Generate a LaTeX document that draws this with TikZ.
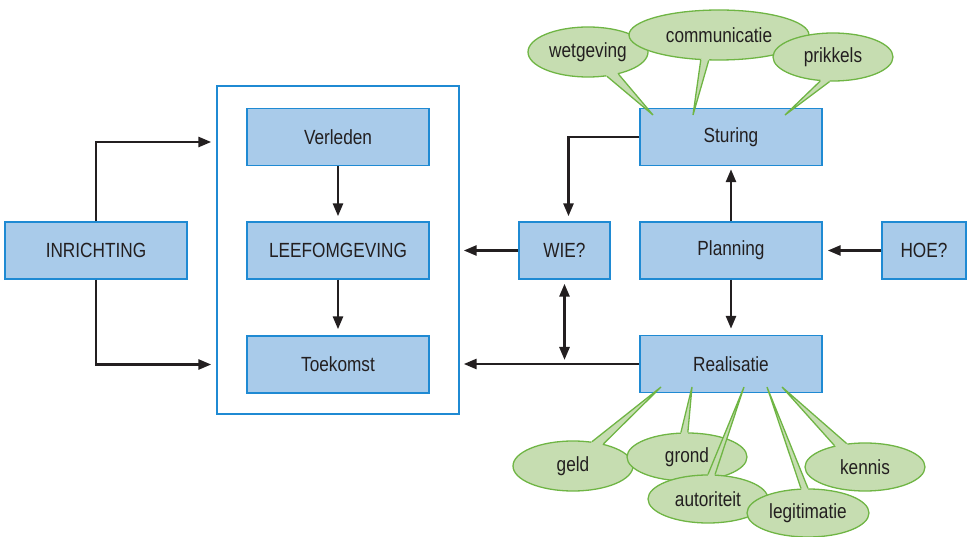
\documentclass[tikz,border=0pt]{standalone}
\usepackage{fontspec}
\setmainfont[FakeStretch=0.84]{Liberation Sans}
\usetikzlibrary{arrows.meta,shapes.geometric,calc}
\definecolor{boxfill}{HTML}{A9CBEA}
\definecolor{boxline}{HTML}{1F8AD3}
\definecolor{bubfill}{HTML}{C6DDB1}
\definecolor{bubline}{HTML}{6FB544}
\definecolor{txt}{HTML}{231F20}
\newcommand\bubptr[4]{%
  \fill[bubfill] (#1.#2) -- (#4) -- (#1.#3) -- ($(#1.#3)!0.25!(#1.center)$) -- ($(#1.#2)!0.25!(#1.center)$) -- cycle;
  \draw[bubline,line width=1.3pt,line join=miter] (#1.#2) -- (#4) -- (#1.#3);
}
\begin{document}
\begin{tikzpicture}[x=1pt,y=-1pt,
  font=\fontsize{20.5}{24}\selectfont, text=txt,
  box/.style={draw=boxline, fill=boxfill, line width=1.4pt, minimum height=57pt, inner sep=0pt},
  arr/.style={line width=2.7pt, draw=txt, -{Triangle[length=13pt,width=10pt]}},
  bub/.style={ellipse, draw=bubline, fill=bubfill, line width=1.3pt, inner sep=0pt}]
\useasboundingbox (0,0) rectangle (967,537);
% frame and left column
\node[draw=boxline, fill=white, line width=1.4pt, minimum width=242pt, minimum height=328pt, inner sep=0pt] (frame) at (338,250) {};
\node[box, minimum width=182pt] (inr) at (96,250.5) {INRICHTING};
\node[box, minimum width=182pt] (ver) at (338,137) {Verleden};
\node[box, minimum width=182pt] (lee) at (338,250.5) {LEEFOMGEVING};
\node[box, minimum width=182pt] (toe) at (338,364.5) {Toekomst};
% right part
\node[box, minimum width=182pt] (stur) at (731,137) {Sturing};
\node[box, minimum width=182pt] (plan) at (731,250.5) {Planning};
\node[box, minimum width=182pt] (real) at (731,364) {Realisatie};
\node[box, minimum width=91pt] (wie) at (564.5,250.5) {WIE?};
\node[box, minimum width=84pt] (hoe) at (924,250.5) {HOE?};
% arrows
\draw[arr, shorten >=5pt] (inr.north) |- ([yshift=-5pt]frame.west |- ver.west);
\draw[arr, shorten >=5pt] (inr.south) |- (frame.west |- toe.west);
\draw[arr, shorten >=5pt] (ver.south) -- (lee.north);
\draw[arr, shorten >=6pt] (lee.south) -- (toe.north);
\draw[arr, shorten >=4pt] (wie.west) -- (frame.east |- wie.west);
\draw[arr, shorten >=4pt] (real.west) -- (frame.east |- real.west);
\draw[arr, shorten >=5pt] (stur.west) -| ([xshift=4pt]wie.north);
\draw[arr, shorten >=3pt] (plan.north) -- (stur.south);
\draw[arr, shorten >=6pt] (plan.south) -- (real.north);
\draw[arr, shorten >=5pt] (hoe.west) -- (plan.east);
\draw[line width=2.7pt, draw=txt, {Triangle[length=13pt,width=10pt]}-{Triangle[length=13pt,width=10pt]}, shorten <=4pt, shorten >=4pt] (wie.south) -- (wie.south |- real.west);
% tips
\coordinate (tWet) at (653,115);
\coordinate (tCom) at (693,115);
\coordinate (tPrik) at (785,115);
\coordinate (tGeld) at (661,387);
\coordinate (tGrond) at (692,387);
\coordinate (tAut) at (744,387);
\coordinate (tLeg) at (767,387);
\coordinate (tKen) at (782,387);
% top bubbles
\node[bub, minimum width=120pt, minimum height=50pt] (wet) at (588,52) {wetgeving};
\bubptr{wet}{-52}{-36}{tWet}
\node[bub, minimum width=180pt, minimum height=50pt] (com) at (719,35) {communicatie};
\bubptr{com}{-126}{-112}{tCom}
\node[bub, minimum width=120pt, minimum height=48pt] (prik) at (833,57) {prikkels};
\bubptr{prik}{-118}{-98}{tPrik}
% bottom bubbles
\node[bub, minimum width=120pt, minimum height=50pt] (geld) at (573,466) {geld};
\bubptr{geld}{52}{36}{tGeld}
\node[bub, minimum width=120pt, minimum height=48pt] (grond) at (687,457) {grond};
\bubptr{grond}{104}{88}{tGrond}
\node[bub, minimum width=120pt, minimum height=48pt] (aut) at (708,499) {autoriteit};
\bubptr{aut}{90}{74}{tAut}
\node[bub, minimum width=122pt, minimum height=48pt] (leg) at (808,513) {legitimatie};
\bubptr{leg}{106}{90}{tLeg}
\node[bub, minimum width=120pt, minimum height=48pt] (ken) at (865,467) {kennis};
\bubptr{ken}{145}{128}{tKen}
\end{tikzpicture}
\end{document}
